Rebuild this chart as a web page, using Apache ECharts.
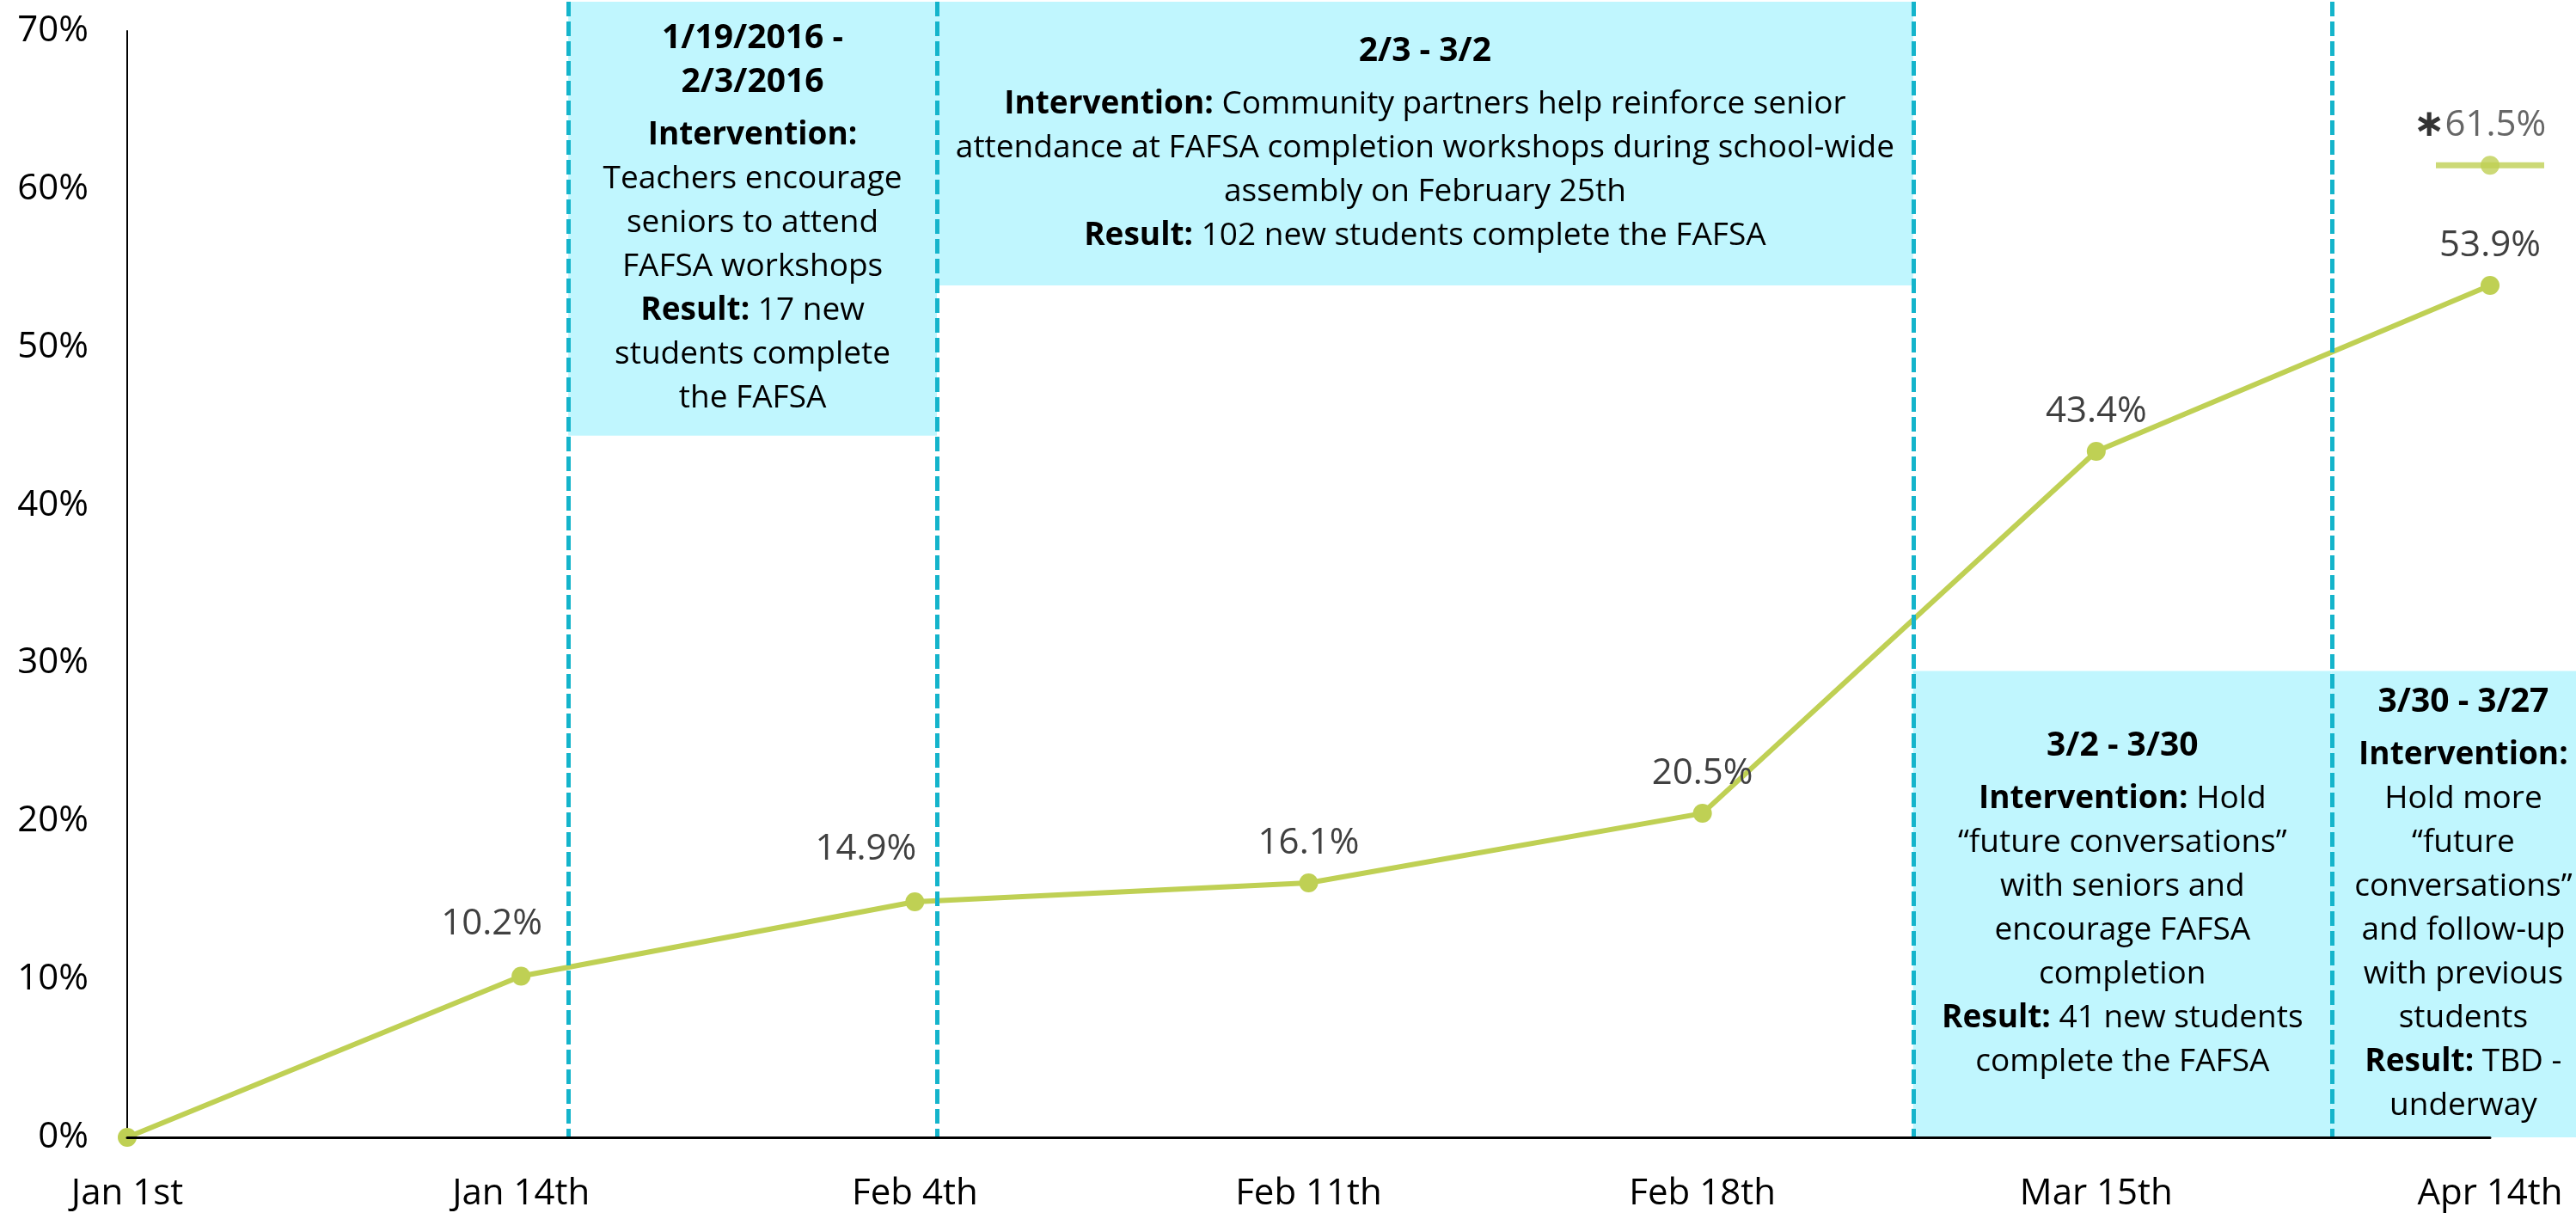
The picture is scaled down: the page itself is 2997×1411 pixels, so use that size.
<!DOCTYPE html>
<html><head><meta charset="utf-8">
<script src="https://cdn.jsdelivr.net/npm/echarts@6/dist/echarts.min.js"></script>
<style>html,body{margin:0;padding:0;background:#fff;overflow:hidden}#c{width:2997px;height:1411px}</style>
</head><body><div id="c"></div>
<script>
// ---- data ----
const categories = ['Jan 1st', 'Jan 14th', 'Feb 4th', 'Feb 11th', 'Feb 18th', 'Mar 15th', 'Apr 14th'];
const completionRate = [0, 10.2, 14.9, 16.1, 20.5, 43.4, 53.9];
const projectedCategory = 'Apr 14th';
const projectedRate = 61.5;
const yMin = 0, yMax = 70, yStep = 10;
// intervention period boundaries, on the category-index scale
const periodBounds = [1.12, 2.056, 4.535, 5.598];
// annotation boxes: lower value and upper value (null = top of picture)
const boxBottoms = [44.4, 53.9, 0, 0];
const boxTops = [null, null, 29.5, 29.5];
const periodDates = ['1/19/2016 -\n2/3/2016', '2/3 - 3/2', '3/2 - 3/30', '3/30 - 3/27'];
const interventions = [
  '\nTeachers encourage\nseniors to attend\nFAFSA workshops',
  ' Community partners help reinforce senior\nattendance at FAFSA completion workshops during school-wide\nassembly on February 25th',
  ' Hold\n\u201cfuture conversations\u201d\nwith seniors and\nencourage FAFSA\ncompletion',
  '\nHold more\n\u201cfuture\nconversations\u201d\nand follow-up\nwith previous\nstudents'
];
const results = [
  ' 17 new\nstudents complete\nthe FAFSA',
  ' 102 new students complete the FAFSA',
  ' 41 new students\ncomplete the FAFSA',
  ' TBD -\nunderway'
];

// ---- styling ----
const GREEN = '#BFD054';
const CYAN = '#14B4CB';
const BOX = '#C0F6FE';
const FONT = 'Open Sans';

function richBlock(label, text) {
  const parts = text.split('\n');
  const first = parts.shift();
  let s = '{b|' + label + '}' + (first ? '{n|' + first + '}' : '');
  parts.forEach(p => { s += '\n{n|' + p + '}'; });
  return s;
}
function boxText(i) {
  const d = periodDates[i].split('\n').map(t => '{d|' + t + '}').join('\n');
  return d + '\n{g| }\n' + richBlock('Intervention:', interventions[i]) + '\n' + richBlock('Result:', results[i]);
}
const rich = {
  d: { fontFamily: FONT, fontWeight: 'bold', fontSize: 39, lineHeight: 51, color: '#000' },
  b: { fontFamily: FONT, fontWeight: 'bold', fontSize: 37, lineHeight: 51, color: '#000' },
  n: { fontFamily: FONT, fontSize: 37, lineHeight: 51, color: '#000' },
  g: { fontFamily: FONT, fontSize: 1, lineHeight: 10 }
};
const labelOffsets = { 1: [-34, -14], 2: [-57, -15] };

const areaData = periodDates.map((_, i) => {
  const x0 = periodBounds[i];
  const x1 = i + 1 < periodBounds.length ? periodBounds[i + 1] : null;
  const p0 = { xAxis: x0 };
  if (boxTops[i] == null) p0.y = 2; else p0.yAxis = boxTops[i];
  p0.label = {
    show: true, position: 'inside', align: 'center', verticalAlign: 'middle',
    formatter: boxText(i), rich: rich, offset: i === 3 ? [11, 0] : [0, 0]
  };
  const p1 = { yAxis: boxBottoms[i] };
  if (x1 == null) p1.x = '100%'; else p1.xAxis = x1;
  return [p0, p1];
});
const lineData = periodBounds.map(b => [{ xAxis: b, y: 2 }, { xAxis: b, yAxis: 0 }]);

const seriesData = completionRate.map((v, i) => {
  const item = { value: v };
  if (i === 0) item.label = { show: false };
  else if (labelOffsets[i]) item.label = { offset: labelOffsets[i] };
  return item;
});

const chart = echarts.init(document.getElementById('c'), null, { renderer: 'canvas' });
chart.setOption({
  backgroundColor: '#fff',
  animation: false,
  textStyle: { fontFamily: FONT },
  grid: { left: 148, right: 100, top: 36, bottom: 83, containLabel: false },
  xAxis: [
    {
      type: 'category', data: categories, boundaryGap: false, z: 6,
      axisLine: { show: true, lineStyle: { color: '#000', width: 3 } },
      axisTick: { show: false },
      axisLabel: { interval: 0, fontSize: 42, lineHeight: 44, color: '#000', margin: 44, fontFamily: FONT }
    },
    { type: 'value', min: 0, max: categories.length - 1, show: false }
  ],
  yAxis: {
    type: 'value', min: yMin, max: yMax, interval: yStep,
    axisLine: { show: true, lineStyle: { color: '#000', width: 2 } },
    axisTick: { show: false },
    splitLine: { show: false },
    axisLabel: { formatter: '{value}%', fontSize: 42, color: '#000', margin: 45, fontFamily: FONT }
  },
  series: [
    {
      type: 'line', name: 'annotations', xAxisIndex: 1, yAxisIndex: 0, data: [],
      silent: true,
      markArea: { silent: true, itemStyle: { color: BOX }, emphasis: { disabled: true }, data: areaData },
      markLine: {
        silent: true, symbol: ['none', 'none'], label: { show: false },
        lineStyle: { type: [17, 6], width: 5, color: CYAN, opacity: 1 },
        emphasis: { disabled: true }, data: lineData
      }
    },
    {
      type: 'line', name: 'FAFSA completion', data: seriesData, z: 3, clip: false,
      symbol: 'circle', symbolSize: 22, showAllSymbol: true,
      lineStyle: { color: GREEN, width: 6 }, itemStyle: { color: GREEN },
      label: {
        show: true, position: 'top', distance: 13, fontSize: 42, lineHeight: 44,
        color: '#404040', fontFamily: FONT, formatter: p => p.value + '%'
      },
      emphasis: { disabled: true }
    },
    {
      type: 'scatter', name: 'projection bar', data: [[projectedCategory, projectedRate]], z: 3,
      symbol: 'rect', symbolSize: [126, 7], itemStyle: { color: GREEN }, emphasis: { disabled: true }
    },
    {
      type: 'scatter', name: 'projection', data: [[projectedCategory, projectedRate]], z: 4,
      symbol: 'circle', symbolSize: 22, itemStyle: { color: GREEN },
      label: {
        show: true, position: 'top', distance: 13, offset: [-12, 0],
        formatter: p => '{a|\u2217}{v|' + p.value[1] + '%}',
        rich: {
          a: { fontFamily: 'DejaVu Sans', fontWeight: 'bold', fontSize: 44, color: '#000', lineHeight: 44 },
          v: { fontFamily: FONT, fontSize: 42, color: '#404040', lineHeight: 44 }
        }
      },
      emphasis: { disabled: true }
    }
  ]
});
</script>
</body></html>
